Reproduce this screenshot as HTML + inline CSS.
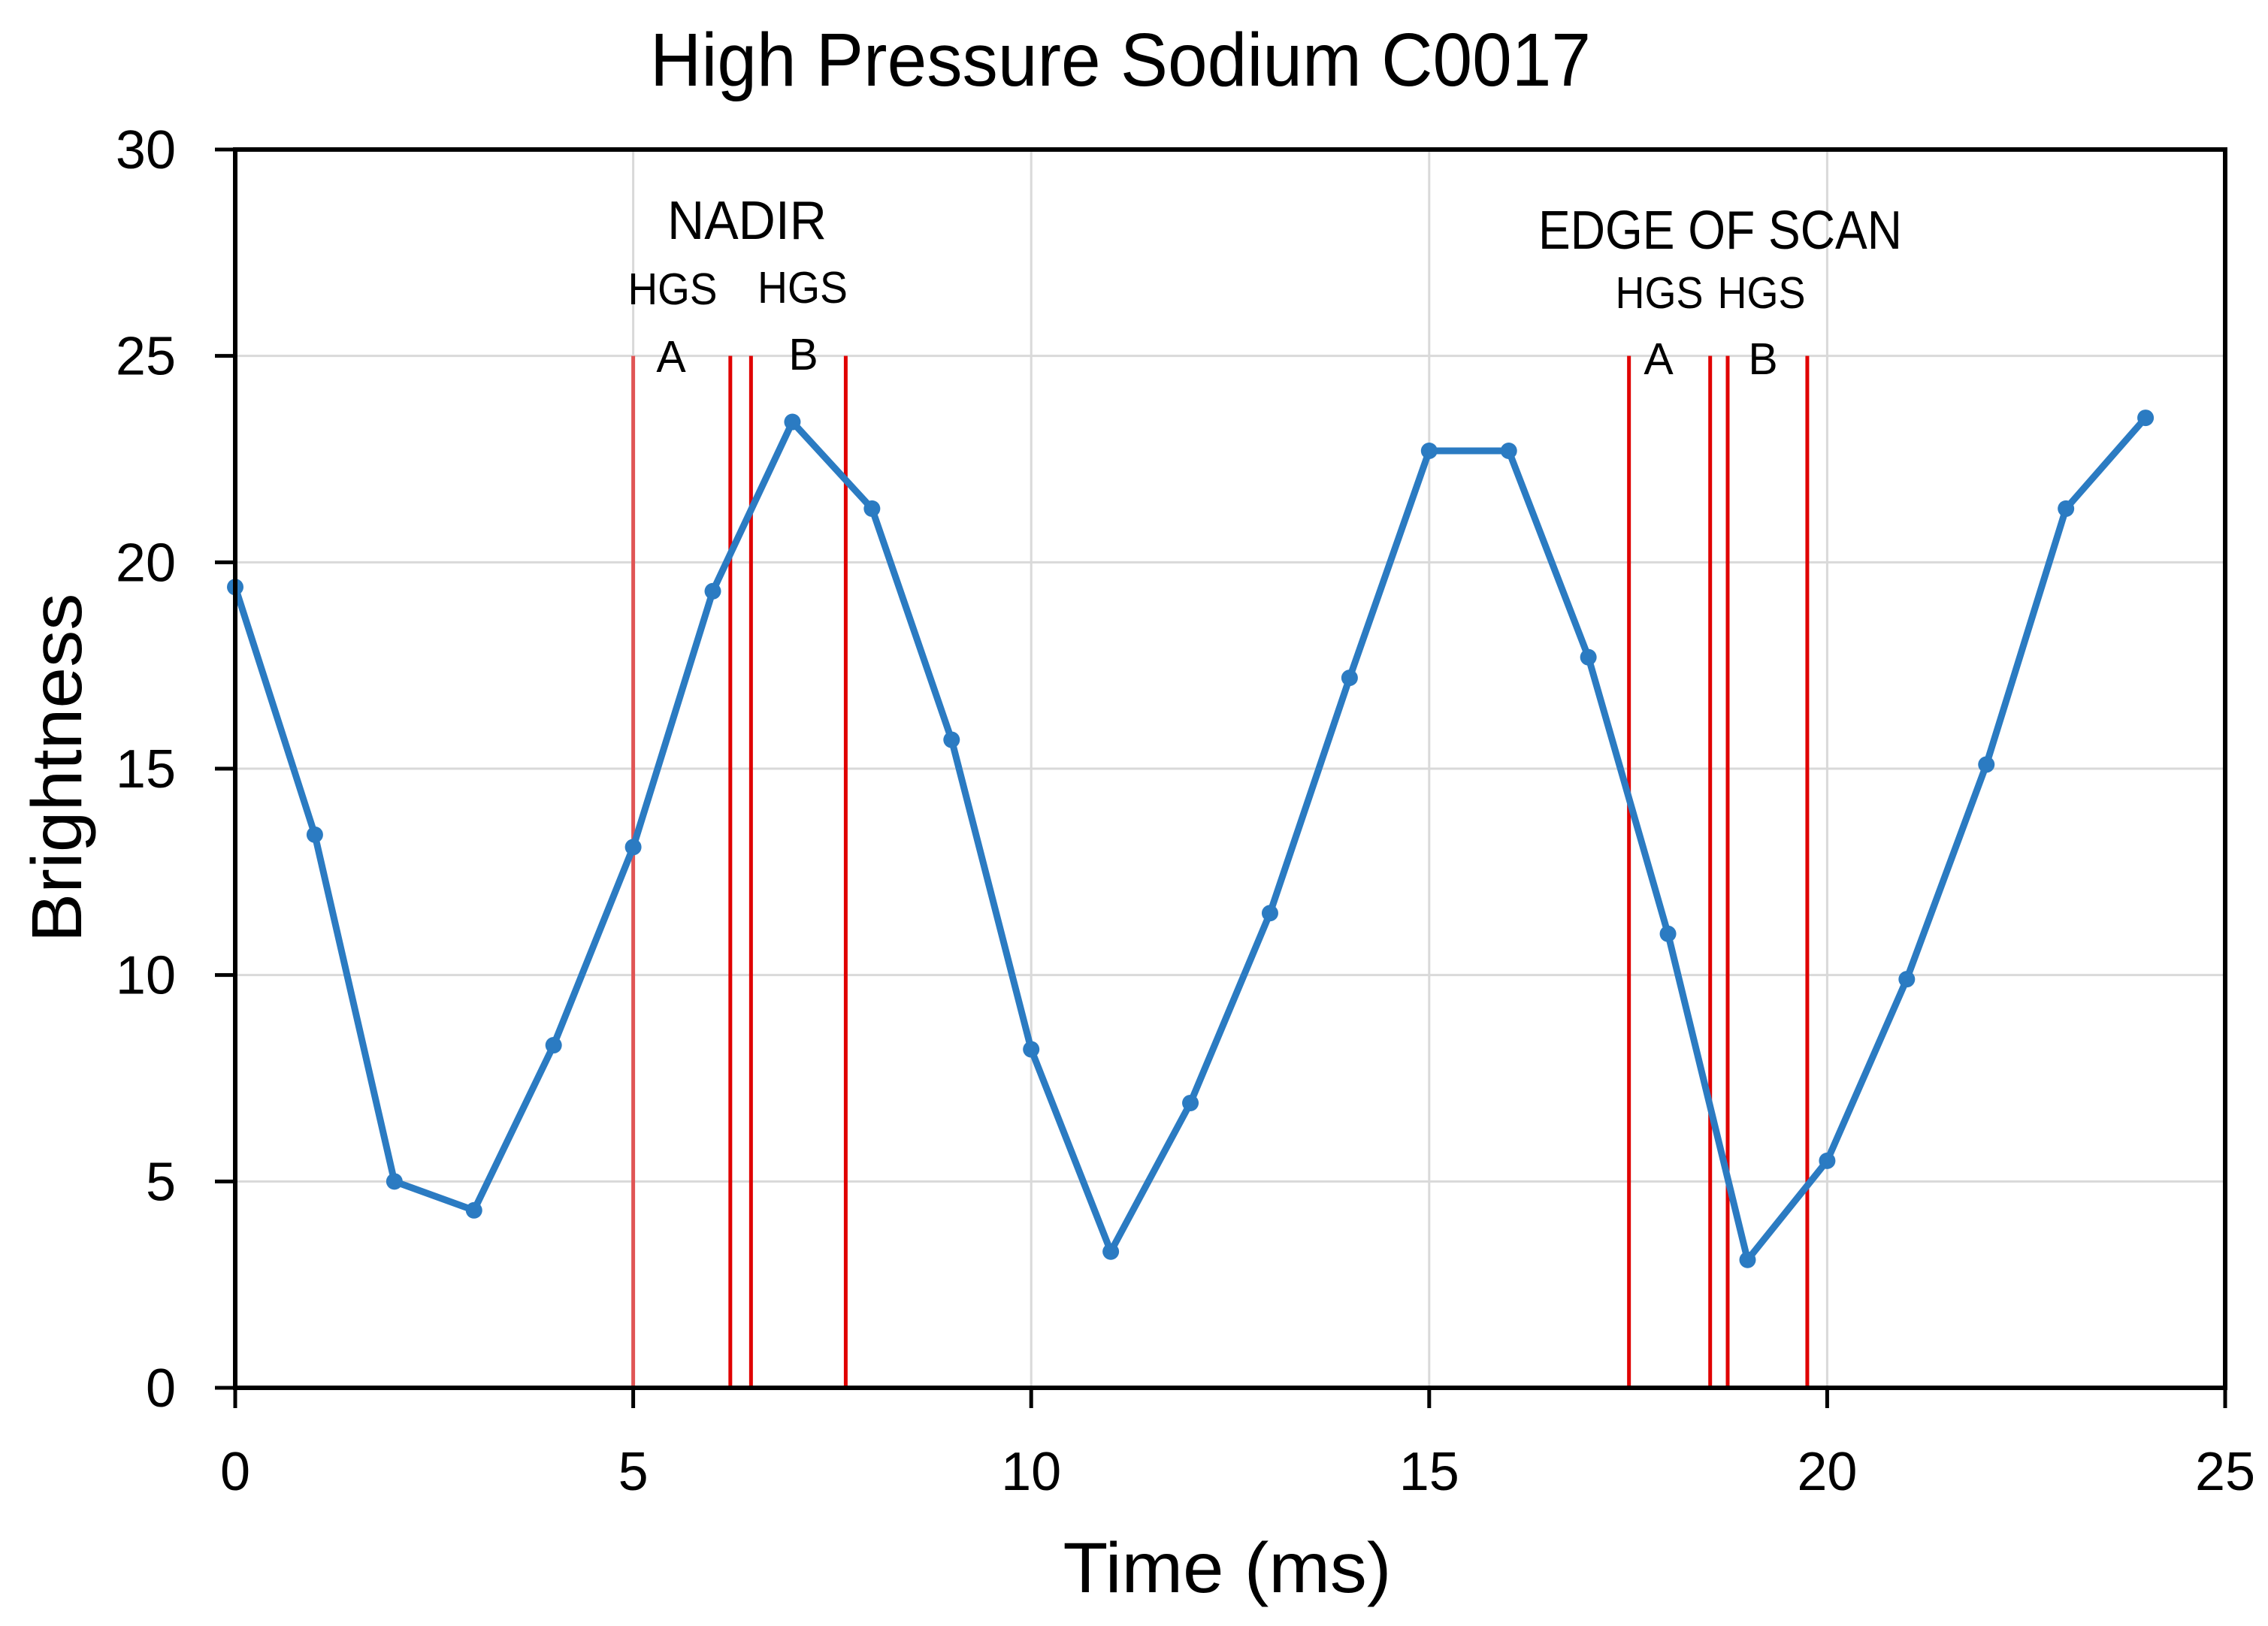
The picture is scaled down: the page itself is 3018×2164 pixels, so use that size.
<!DOCTYPE html>
<html><head><meta charset="utf-8"><style>
html,body{margin:0;padding:0;background:#fff;}
svg{display:block;font-family:"Liberation Sans",sans-serif;}
</style></head><body>
<svg id="chart" width="3018" height="2164" viewBox="0 0 3018 2164" xmlns="http://www.w3.org/2000/svg">
<rect width="3018" height="2164" fill="#fff"/>
<g id="grid"></g>
<g id="redlines"></g>
<g id="series"></g>
<g id="axes"></g>
<text x="1491" y="114" font-size="100" text-anchor="middle" textLength="1252" lengthAdjust="spacingAndGlyphs">High Pressure Sodium C0017</text>
<text x="1633" y="2119" font-size="95" text-anchor="middle" textLength="437" lengthAdjust="spacingAndGlyphs">Time (ms)</text>
<text transform="translate(108,1022) rotate(-90)" font-size="95" text-anchor="middle" textLength="465" lengthAdjust="spacingAndGlyphs">Brightness</text>
<text x="994" y="318" font-size="72" text-anchor="middle" textLength="212" lengthAdjust="spacingAndGlyphs">NADIR</text>
<text x="895" y="405" font-size="59" text-anchor="middle" textLength="119" lengthAdjust="spacingAndGlyphs">HGS</text>
<text x="1068" y="403" font-size="59" text-anchor="middle" textLength="120" lengthAdjust="spacingAndGlyphs">HGS</text>
<text x="893" y="495" font-size="59" text-anchor="middle">A</text>
<text x="1069" y="492" font-size="59" text-anchor="middle">B</text>
<text x="2289" y="331" font-size="72" text-anchor="middle" textLength="484" lengthAdjust="spacingAndGlyphs">EDGE OF SCAN</text>
<text x="2208" y="410" font-size="59" text-anchor="middle" textLength="117" lengthAdjust="spacingAndGlyphs">HGS</text>
<text x="2344" y="410" font-size="59" text-anchor="middle" textLength="117" lengthAdjust="spacingAndGlyphs">HGS</text>
<text x="2207" y="498" font-size="59" text-anchor="middle">A</text>
<text x="2346" y="498" font-size="59" text-anchor="middle">B</text>
</svg>
<script>
const times = [0,1,2,3,4,5,6,7,8,9,10,11,12,13,14,15,16,17,18,19,20,21,22,23,24];
const brightness = [19.4,13.4,5.0,4.3,8.3,13.1,19.3,23.4,21.3,15.7,8.2,3.3,6.9,11.5,17.2,22.7,22.7,17.7,11.0,3.1,5.5,9.9,15.1,21.3,23.5];
const markerTimes = [5.0,6.22,6.48,7.67,17.51,18.53,18.75,19.75];
const markerTop = 25;
const xTicks = [0,5,10,15,20,25];
const yTicks = [0,5,10,15,20,25,30];

const NS = "http://www.w3.org/2000/svg";
const L = 313, R = 2961, T = 199, B = 1847;
function sx(v){ return L + (v/25)*(R-L); }
function sy(v){ return B - (v/30)*(B-T); }
function mk(tag, attrs, parent){
  const e = document.createElementNS(NS, tag);
  for (const k in attrs) e.setAttribute(k, attrs[k]);
  parent.appendChild(e);
  return e;
}
const grid = document.getElementById('grid');
const axes = document.getElementById('axes');
const red = document.getElementById('redlines');
const series = document.getElementById('series');

xTicks.forEach(function(t){
  const g = mk('line',{x1:sx(t),x2:sx(t),y1:T,y2:B,stroke:'#d9d9d9','stroke-width':3},grid);
  
  
  const tk = mk('line',{x1:sx(t),x2:sx(t),y1:B,y2:B+27,stroke:'#000','stroke-width':5},axes);
  
  
  const lb = mk('text',{x:sx(t),y:1983,'font-size':72,'text-anchor':'middle'},axes);
  lb.textContent = t;
  
  
});
yTicks.forEach(function(t){
  const g = mk('line',{x1:L,x2:R,y1:sy(t),y2:sy(t),stroke:'#d9d9d9','stroke-width':3},grid);
  
  
  const tk = mk('line',{x1:L-27,x2:L,y1:sy(t),y2:sy(t),stroke:'#000','stroke-width':5},axes);
  
  
  const lb = mk('text',{x:234,y:sy(t)+25,'font-size':72,'text-anchor':'end'},axes);
  lb.textContent = t;
  
  
});
const frame = mk('rect',{x:L,y:T,width:R-L,height:B-T,fill:'none',stroke:'#000','stroke-width':6},axes);



markerTimes.forEach(function(t,i){
  const ln = mk('line',{x1:sx(t),x2:sx(t),y1:sy(markerTop),y2:B,stroke:i===0?'#e05555':'#e00000','stroke-width':5},red);
  
  
});

const pts = times.map(function(t,i){ return sx(t)+','+sy(brightness[i]); }).join(' ');
const pl = mk('polyline',{points:pts,fill:'none',stroke:'#2b7bc2','stroke-width':9,'stroke-linejoin':'round'},series);


times.forEach(function(t,i){
  const c = mk('circle',{cx:sx(t),cy:sy(brightness[i]),r:11,fill:'#2b7bc2'},series);
  
  
});
</script>
</body></html>
